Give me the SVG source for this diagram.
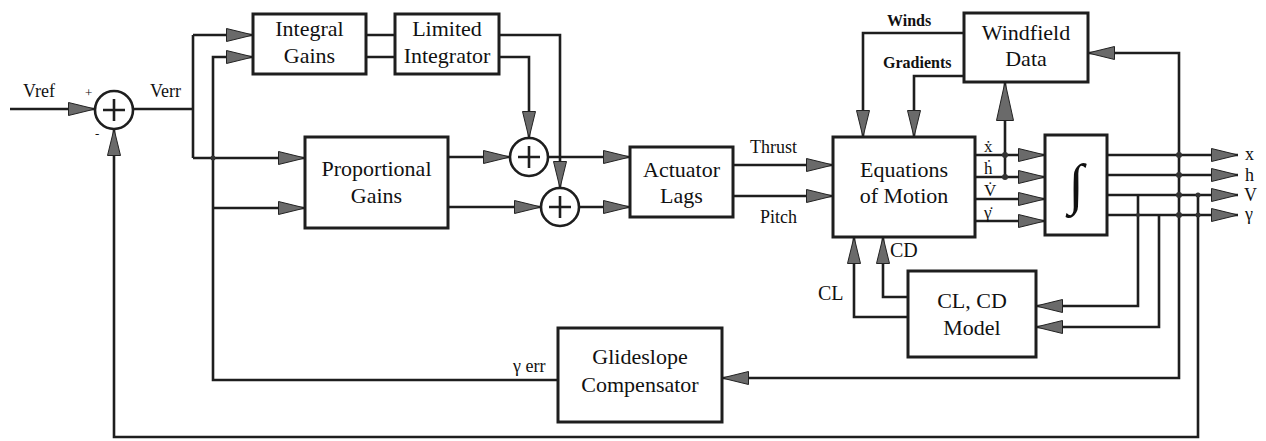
<svg xmlns="http://www.w3.org/2000/svg" width="1266" height="441" viewBox="0 0 1266 441">
<style>
.box{fill:#fff;stroke:#1e1e1e;stroke-width:3}
.ln{fill:none;stroke:#1e1e1e;stroke-width:2.6;stroke-linejoin:miter}
.la{fill:none;stroke:#1e1e1e;stroke-width:2.6;marker-end:url(#ah)}
.lb{fill:none;stroke:#1e1e1e;stroke-width:2.6;marker-end:url(#ahL)}
text{font-family:'Liberation Serif','Tinos','Times New Roman','Noto Serif','DejaVu Serif',serif}
.t{font-size:22px;fill:#111;text-anchor:middle}
.s{font-size:18px;fill:#111}
.w{font-size:16px;font-weight:bold;fill:#111}
.dot{fill:#333}
.sum{fill:#fff;stroke:#1e1e1e;stroke-width:2.6}
.pl{stroke:#1e1e1e;stroke-width:2.6}
</style>
<defs>
<marker id="ah" markerUnits="userSpaceOnUse" markerWidth="28" markerHeight="16" refX="27" refY="7.5" orient="auto" viewBox="0 0 28 16"><path d="M0.5,1 L27,7.5 L0.5,14 Z" fill="#6a6a6a" stroke="#222" stroke-width="1"/></marker>
<marker id="ahL" markerUnits="userSpaceOnUse" markerWidth="40" markerHeight="20" refX="39" refY="9.5" orient="auto" viewBox="0 0 40 20"><path d="M0.5,1 L39,9.5 L0.5,18 Z" fill="#6a6a6a" stroke="#222" stroke-width="1"/></marker>
</defs>

<g id="connectors">
<path class="la" d="M10,109 H95"/>
<path class="ln" d="M133,109 H193"/>
<path class="ln" d="M193,35 V158"/>
<path class="la" d="M193,35 H253"/>
<path class="la" d="M193,158 H305"/>
<path class="la" d="M558,380 H213 V57 H253"/>
<path class="la" d="M213,208 H305"/>
<path class="ln" d="M366,35 H395 M366,57 H395"/>
<path class="la" d="M499,35 H560 V188"/>
<path class="la" d="M499,57 H529 V138"/>
<path class="la" d="M448,157 H510"/>
<path class="la" d="M448,207 H541"/>
<path class="la" d="M548,157 H630"/>
<path class="la" d="M579,207 H630"/>
<path class="la" d="M733,165 H833"/>
<path class="la" d="M733,196 H833"/>
<path class="la" d="M964,33 H863 V137"/>
<path class="la" d="M964,76 H914 V137"/>
<path class="la" d="M975,155 H1045"/>
<path class="la" d="M975,177 H1045"/>
<path class="la" d="M975,199 H1045"/>
<path class="la" d="M975,221 H1045"/>
<path class="lb" d="M1005,177 V82"/>
<path class="la" d="M1107,155 H1238"/>
<path class="la" d="M1107,175 H1238"/>
<path class="la" d="M1107,195 H1238"/>
<path class="la" d="M1107,215 H1238"/>
<path class="la" d="M1179,155 V53 H1088"/>
<path class="la" d="M1179,155 V378 H722"/>
<path class="la" d="M1138,195 V306 H1036"/>
<path class="la" d="M1159,215 V327 H1036"/>
<path class="la" d="M1198,195 V437 H114 V129"/>
<path class="la" d="M908,297 H883 V237"/>
<path class="la" d="M908,317 H854 V237"/>
<circle class="dot" cx="1005" cy="155" r="3"/>
<circle class="dot" cx="1005" cy="177" r="3"/>
<circle class="dot" cx="1179" cy="155" r="3"/>
<circle class="dot" cx="1179" cy="175" r="3"/>
<circle class="dot" cx="1179" cy="195" r="3"/>
<circle class="dot" cx="1179" cy="215" r="3"/>
<circle class="dot" cx="1198" cy="195" r="2.5"/>
<circle class="dot" cx="1198" cy="215" r="2.5"/>
<circle class="dot" cx="1138" cy="215" r="2"/>
<circle class="dot" cx="213" cy="158" r="2.5"/>
</g>

<g id="sum1">
<circle class="sum" cx="114" cy="110" r="19"/>
<path class="pl" d="M103,110 H125 M114,99 V121"/>
</g>
<g id="sum2">
<circle class="sum" cx="529" cy="157" r="19"/>
<path class="pl" d="M518,157 H540 M529,146 V168"/>
</g>
<g id="sum3">
<circle class="sum" cx="560" cy="207" r="19"/>
<path class="pl" d="M549,207 H571 M560,196 V218"/>
</g>

<g id="integral-gains">
<rect class="box" x="253" y="14" width="113" height="60"/>
<text class="t" x="309.5" y="36">Integral</text>
<text class="t" x="309.5" y="63">Gains</text>
</g>
<g id="limited-integrator">
<rect class="box" x="395" y="14" width="104" height="60"/>
<text class="t" x="447" y="36">Limited</text>
<text class="t" x="447" y="63">Integrator</text>
</g>
<g id="proportional-gains">
<rect class="box" x="305" y="137" width="143" height="91"/>
<text class="t" x="376.5" y="176">Proportional</text>
<text class="t" x="376.5" y="203">Gains</text>
</g>
<g id="actuator-lags">
<rect class="box" x="630" y="147" width="103" height="70"/>
<text class="t" x="681.5" y="177">Actuator</text>
<text class="t" x="681.5" y="203">Lags</text>
</g>
<g id="equations-of-motion">
<rect class="box" x="833" y="137" width="142" height="100"/>
<text class="t" x="904" y="177">Equations</text>
<text class="t" x="904" y="203">of Motion</text>
</g>
<g id="windfield-data">
<rect class="box" x="964" y="13" width="124" height="69"/>
<text class="t" x="1026" y="40">Windfield</text>
<text class="t" x="1026" y="66">Data</text>
</g>
<g id="integrator">
<rect class="box" x="1045" y="135" width="62" height="100"/>
<text class="t" x="1076" y="203" style="font-size:56px">∫</text>
</g>
<g id="cl-cd-model">
<rect class="box" x="908" y="271" width="128" height="86"/>
<text class="t" x="972" y="308">CL, CD</text>
<text class="t" x="972" y="335">Model</text>
</g>
<g id="glideslope-compensator">
<rect class="box" x="558" y="328" width="164" height="94"/>
<text class="t" x="640" y="364">Glideslope</text>
<text class="t" x="640" y="392">Compensator</text>
</g>

<g id="labels">
<text class="s" x="23" y="97">Vref</text>
<text class="s" x="85" y="97" style="font-size:13px">+</text>
<text class="s" x="95" y="138" style="font-size:13px">-</text>
<text class="s" x="150" y="97">Verr</text>
<text class="s" x="750" y="153">Thrust</text>
<text class="s" x="760" y="223">Pitch</text>
<text class="w" x="887" y="26">Winds</text>
<text class="w" x="883" y="68">Gradients</text>
<text class="s" x="984" y="152" style="font-size:17px">ẋ</text>
<text class="s" x="984" y="174" style="font-size:17px">ḣ</text>
<text class="s" x="984" y="196" style="font-size:17px">V̇</text>
<text class="s" x="984" y="218" style="font-size:17px">γ̇</text>
<text class="s" x="890" y="257" style="font-size:20px">CD</text>
<text class="s" x="818" y="300" style="font-size:20px">CL</text>
<text class="s" x="513" y="372">γ err</text>
<text class="s" x="1245" y="160">x</text>
<text class="s" x="1245" y="181">h</text>
<text class="s" x="1244" y="201">V</text>
<text class="s" x="1245" y="220">γ</text>
</g>
</svg>
